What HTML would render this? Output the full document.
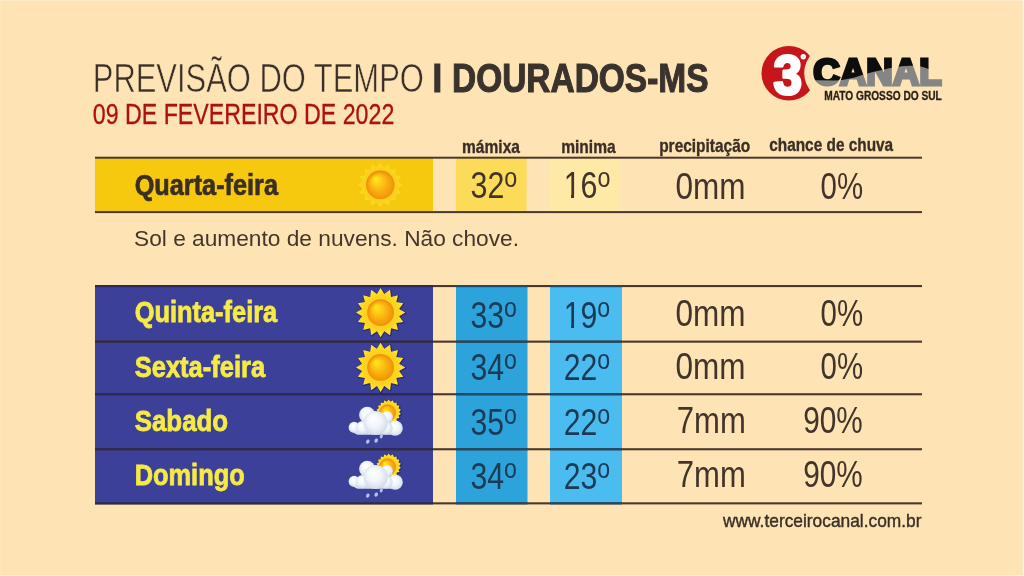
<!DOCTYPE html>
<html lang="pt-BR"><head><meta charset="utf-8"><title>Previsão do Tempo - Dourados-MS</title>
<style>html,body{margin:0;padding:0;background:#FEE4B5;}body{width:1024px;height:576px;overflow:hidden}svg{display:block}text{font-family:"Liberation Sans",Arial,sans-serif}</style>
</head><body>
<svg width="1024" height="576" viewBox="0 0 1024 576">
<defs>
<radialGradient id="core" cx="0.6" cy="0.63" r="0.72" fx="0.32" fy="0.28"><stop offset="0" stop-color="#FFEE18"/><stop offset="0.25" stop-color="#FDC814"/><stop offset="0.55" stop-color="#F5A00E"/><stop offset="0.8" stop-color="#EB820A"/><stop offset="1" stop-color="#F0960E"/></radialGradient>
<radialGradient id="rays" cx="0.5" cy="0.5" r="0.5"><stop offset="0" stop-color="#FBC81A"/><stop offset="0.7" stop-color="#FCD41E"/><stop offset="1" stop-color="#FFEA3A"/></radialGradient>
<radialGradient id="cl" cx="0.5" cy="0.5" r="0.6" fx="0.38" fy="0.3"><stop offset="0" stop-color="#ffffff"/><stop offset="0.5" stop-color="#f1f5fa"/><stop offset="0.82" stop-color="#d6e0ed"/><stop offset="1" stop-color="#b8c8de"/></radialGradient>
<filter id="soft" x="-20%" y="-20%" width="140%" height="140%"><feGaussianBlur stdDeviation="0.6"/></filter>
</defs>
<rect width="1024" height="576" fill="#FEE4B5"/>

<rect x="0" y="0" width="1024" height="1" fill="#FDEBC8"/><rect x="0" y="0" width="1" height="576" fill="#FEE8BA"/><rect x="1022" y="0" width="1" height="576" fill="#F9E8C8"/><rect x="1023" y="0" width="1" height="576" fill="#FFF5DC"/><rect x="0" y="575" width="1024" height="1" fill="#FFF1D2"/>
<text x="92.8" y="91.6" font-size="40.2" font-weight="normal" fill="#3a2f28" text-anchor="start" textLength="331" lengthAdjust="spacingAndGlyphs" stroke="#FEE4B5" stroke-width="0.6">PREVISÃO DO TEMPO</text>
<text x="432.2" y="92.3" font-size="40.5" font-weight="bold" fill="#3a322d" text-anchor="start" textLength="10.2" lengthAdjust="spacingAndGlyphs" stroke="#3a322d" stroke-width="0.8">I</text>
<text x="452" y="92.3" font-size="40.5" font-weight="bold" fill="#3a322d" text-anchor="start" textLength="256.5" lengthAdjust="spacingAndGlyphs" stroke="#3a322d" stroke-width="1.1">DOURADOS-MS</text>
<text x="92.8" y="123.6" font-size="29.7" font-weight="normal" fill="#AC1010" text-anchor="start" textLength="301.5" lengthAdjust="spacingAndGlyphs" stroke="#AC1010" stroke-width="0.3">09 DE FEVEREIRO DE 2022</text>
<text x="462" y="152.6" font-size="18.6" font-weight="bold" fill="#3b2e25" text-anchor="start" textLength="58" lengthAdjust="spacingAndGlyphs" stroke="#3b2e25" stroke-width="0.35">mámixa</text>
<text x="561.2" y="152.6" font-size="18.6" font-weight="bold" fill="#3b2e25" text-anchor="start" textLength="54.5" lengthAdjust="spacingAndGlyphs" stroke="#3b2e25" stroke-width="0.35">minima</text>
<text x="659.2" y="152.2" font-size="18.6" font-weight="bold" fill="#3b2e25" text-anchor="start" textLength="91" lengthAdjust="spacingAndGlyphs" stroke="#3b2e25" stroke-width="0.35">precipitação</text>
<text x="769.2" y="150.9" font-size="18.6" font-weight="bold" fill="#3b2e25" text-anchor="start" textLength="124" lengthAdjust="spacingAndGlyphs" stroke="#3b2e25" stroke-width="0.35">chance de chuva</text>
<rect x="95" y="157" width="338" height="55" fill="#F6C90F"/>
<rect x="456" y="157" width="70.5" height="55" fill="#FBDB58"/>
<rect x="550" y="157" width="69.5" height="55" fill="#FEEAA6"/>
<rect x="95" y="156.7" width="827" height="2" fill="#4a382d"/>
<rect x="95" y="211.1" width="827" height="2" fill="#4a382d"/>
<text x="134.7" y="194.5" font-size="30.4" font-weight="bold" fill="#3b2e25" text-anchor="start" textLength="143.3" lengthAdjust="spacingAndGlyphs" stroke="#3b2e25" stroke-width="0.7">Quarta-feira</text>
<polygon points="380.30,162.80 383.81,167.15 388.72,164.47 390.30,169.83 395.86,169.24 395.27,174.80 400.63,176.38 397.95,181.29 402.30,184.80 397.95,188.31 400.63,193.22 395.27,194.80 395.86,200.36 390.30,199.77 388.72,205.13 383.81,202.45 380.30,206.80 376.79,202.45 371.88,205.13 370.30,199.77 364.74,200.36 365.33,194.80 359.97,193.22 362.65,188.31 358.30,184.80 362.65,181.29 359.97,176.38 365.33,174.80 364.74,169.24 370.30,169.83 371.88,164.47 376.79,167.15" fill="url(#rays)" opacity="0.55"/>
<circle cx="380.3" cy="184.8" r="14.3" fill="url(#core)" filter="url(#soft)"/>
<text x="470.5" y="197.6" font-size="36.5" font-weight="normal" fill="#42342a" text-anchor="start" textLength="46.8" lengthAdjust="spacingAndGlyphs" >32<tspan font-size="28" dy="-11">o</tspan></text>
<text x="563.7" y="197.6" font-size="36.5" font-weight="normal" fill="#42342a" text-anchor="start" textLength="46.8" lengthAdjust="spacingAndGlyphs" >16<tspan font-size="28" dy="-11">o</tspan></text>
<rect x="565.2" y="194.3" width="5.8" height="4" fill="#FEEAA6"/><rect x="574.0" y="194.3" width="6.6" height="4" fill="#FEEAA6"/>
<text x="675.5" y="198.7" font-size="36.5" font-weight="normal" fill="#42342a" text-anchor="start" textLength="70" lengthAdjust="spacingAndGlyphs" >0mm</text>
<text x="820.6" y="198.7" font-size="36.5" font-weight="normal" fill="#42342a" text-anchor="start" textLength="42.5" lengthAdjust="spacingAndGlyphs" >0%</text>
<text x="134" y="246.4" font-size="22.8" font-weight="normal" fill="#43362c" text-anchor="start" textLength="385" lengthAdjust="spacingAndGlyphs" >Sol e aumento de nuvens. Não chove.</text>
<rect x="95" y="286" width="338" height="217" fill="#3C4099"/>
<rect x="456" y="286" width="71.5" height="217" fill="#2CA4DB"/>
<rect x="550" y="286" width="72" height="217" fill="#4BBCEF"/>
<rect x="95" y="285" width="827" height="2.1" fill="#4a382d"/>
<rect x="95" y="340.6" width="827" height="2.1" fill="#4a382d"/>
<rect x="95" y="393.2" width="827" height="2.1" fill="#4a382d"/>
<rect x="95" y="448.2" width="827" height="2.1" fill="#4a382d"/>
<rect x="95" y="502.3" width="827" height="2.1" fill="#4a382d"/>
<rect x="95" y="285" width="338" height="2.1" fill="#2c2a55"/>
<rect x="456" y="285" width="71.5" height="2.1" fill="#1f4a66"/>
<rect x="550" y="285" width="72" height="2.1" fill="#1f4a66"/>
<rect x="95" y="340.6" width="338" height="2.1" fill="#2c2a55"/>
<rect x="456" y="340.6" width="71.5" height="2.1" fill="#1f4a66"/>
<rect x="550" y="340.6" width="72" height="2.1" fill="#1f4a66"/>
<rect x="95" y="393.2" width="338" height="2.1" fill="#2c2a55"/>
<rect x="456" y="393.2" width="71.5" height="2.1" fill="#1f4a66"/>
<rect x="550" y="393.2" width="72" height="2.1" fill="#1f4a66"/>
<rect x="95" y="448.2" width="338" height="2.1" fill="#2c2a55"/>
<rect x="456" y="448.2" width="71.5" height="2.1" fill="#1f4a66"/>
<rect x="550" y="448.2" width="72" height="2.1" fill="#1f4a66"/>
<rect x="95" y="502.3" width="338" height="2.1" fill="#2c2a55"/>
<rect x="456" y="502.3" width="71.5" height="2.1" fill="#1f4a66"/>
<rect x="550" y="502.3" width="72" height="2.1" fill="#1f4a66"/>
<text x="134.7" y="322.3" font-size="30" font-weight="bold" fill="#F6EA45" text-anchor="start" textLength="142.5" lengthAdjust="spacingAndGlyphs" stroke="#F6EA45" stroke-width="0.8">Quinta-feira</text>
<text x="470.5" y="327.6" font-size="36.5" font-weight="normal" fill="#1b3a56" text-anchor="start" textLength="46.5" lengthAdjust="spacingAndGlyphs" >33<tspan font-size="28" dy="-11">o</tspan></text>
<text x="563.7" y="327.6" font-size="36.5" font-weight="normal" fill="#1b3a56" text-anchor="start" textLength="46.5" lengthAdjust="spacingAndGlyphs" >19<tspan font-size="28" dy="-11">o</tspan></text>
<rect x="565.2" y="324.3" width="5.8" height="4" fill="#4BBCEF"/><rect x="574.0" y="324.3" width="6.6" height="4" fill="#4BBCEF"/>
<text x="675.5" y="326.3" font-size="36.5" font-weight="normal" fill="#42342a" text-anchor="start" textLength="70" lengthAdjust="spacingAndGlyphs" >0mm</text>
<text x="820.6" y="326.3" font-size="36.5" font-weight="normal" fill="#42342a" text-anchor="start" textLength="42.5" lengthAdjust="spacingAndGlyphs" >0%</text>
<polygon points="380.60,288.00 384.29,294.06 390.01,289.87 391.10,296.89 397.99,295.21 396.31,302.10 403.33,303.19 399.14,308.91 405.20,312.60 399.14,316.29 403.33,322.01 396.31,323.10 397.99,329.99 391.10,328.31 390.01,335.33 384.29,331.14 380.60,337.20 376.91,331.14 371.19,335.33 370.10,328.31 363.21,329.99 364.89,323.10 357.87,322.01 362.06,316.29 356.00,312.60 362.06,308.91 357.87,303.19 364.89,302.10 363.21,295.21 370.10,296.89 371.19,289.87 376.91,294.06" fill="#211d55" stroke="#211d55" stroke-width="1.6" stroke-linejoin="round" opacity="0.6" transform="translate(0.4,0.5)"/>
<polygon points="380.60,288.00 384.29,294.06 390.01,289.87 391.10,296.89 397.99,295.21 396.31,302.10 403.33,303.19 399.14,308.91 405.20,312.60 399.14,316.29 403.33,322.01 396.31,323.10 397.99,329.99 391.10,328.31 390.01,335.33 384.29,331.14 380.60,337.20 376.91,331.14 371.19,335.33 370.10,328.31 363.21,329.99 364.89,323.10 357.87,322.01 362.06,316.29 356.00,312.60 362.06,308.91 357.87,303.19 364.89,302.10 363.21,295.21 370.10,296.89 371.19,289.87 376.91,294.06" fill="url(#rays)" opacity="1"/>
<circle cx="380.6" cy="312.6" r="13.4" fill="url(#core)" filter="url(#soft)"/>
<text x="134.7" y="376.9" font-size="30" font-weight="bold" fill="#F6EA45" text-anchor="start" textLength="130.5" lengthAdjust="spacingAndGlyphs" stroke="#F6EA45" stroke-width="0.8">Sexta-feira</text>
<text x="470.5" y="380.3" font-size="36.5" font-weight="normal" fill="#1b3a56" text-anchor="start" textLength="46.5" lengthAdjust="spacingAndGlyphs" >34<tspan font-size="28" dy="-11">o</tspan></text>
<text x="563.7" y="380.3" font-size="36.5" font-weight="normal" fill="#1b3a56" text-anchor="start" textLength="46.5" lengthAdjust="spacingAndGlyphs" >22<tspan font-size="28" dy="-11">o</tspan></text>
<text x="675.5" y="378.6" font-size="36.5" font-weight="normal" fill="#42342a" text-anchor="start" textLength="70" lengthAdjust="spacingAndGlyphs" >0mm</text>
<text x="820.6" y="378.6" font-size="36.5" font-weight="normal" fill="#42342a" text-anchor="start" textLength="42.5" lengthAdjust="spacingAndGlyphs" >0%</text>
<polygon points="380.60,342.80 384.29,348.86 390.01,344.67 391.10,351.69 397.99,350.01 396.31,356.90 403.33,357.99 399.14,363.71 405.20,367.40 399.14,371.09 403.33,376.81 396.31,377.90 397.99,384.79 391.10,383.11 390.01,390.13 384.29,385.94 380.60,392.00 376.91,385.94 371.19,390.13 370.10,383.11 363.21,384.79 364.89,377.90 357.87,376.81 362.06,371.09 356.00,367.40 362.06,363.71 357.87,357.99 364.89,356.90 363.21,350.01 370.10,351.69 371.19,344.67 376.91,348.86" fill="#211d55" stroke="#211d55" stroke-width="1.6" stroke-linejoin="round" opacity="0.6" transform="translate(0.4,0.5)"/>
<polygon points="380.60,342.80 384.29,348.86 390.01,344.67 391.10,351.69 397.99,350.01 396.31,356.90 403.33,357.99 399.14,363.71 405.20,367.40 399.14,371.09 403.33,376.81 396.31,377.90 397.99,384.79 391.10,383.11 390.01,390.13 384.29,385.94 380.60,392.00 376.91,385.94 371.19,390.13 370.10,383.11 363.21,384.79 364.89,377.90 357.87,376.81 362.06,371.09 356.00,367.40 362.06,363.71 357.87,357.99 364.89,356.90 363.21,350.01 370.10,351.69 371.19,344.67 376.91,348.86" fill="url(#rays)" opacity="1"/>
<circle cx="380.6" cy="367.4" r="13.4" fill="url(#core)" filter="url(#soft)"/>
<text x="134.7" y="431.4" font-size="30" font-weight="bold" fill="#F6EA45" text-anchor="start" textLength="93.5" lengthAdjust="spacingAndGlyphs" stroke="#F6EA45" stroke-width="0.8">Sabado</text>
<text x="470.5" y="434.6" font-size="36.5" font-weight="normal" fill="#1b3a56" text-anchor="start" textLength="46.5" lengthAdjust="spacingAndGlyphs" >35<tspan font-size="28" dy="-11">o</tspan></text>
<text x="563.7" y="434.6" font-size="36.5" font-weight="normal" fill="#1b3a56" text-anchor="start" textLength="46.5" lengthAdjust="spacingAndGlyphs" >22<tspan font-size="28" dy="-11">o</tspan></text>
<text x="676.8" y="432.6" font-size="36.5" font-weight="normal" fill="#42342a" text-anchor="start" textLength="69" lengthAdjust="spacingAndGlyphs" >7mm</text>
<text x="803.3" y="432.6" font-size="36.5" font-weight="normal" fill="#42342a" text-anchor="start" textLength="59.5" lengthAdjust="spacingAndGlyphs" >90%</text>
<g transform="translate(0,0)">
<polygon points="388.70,399.50 390.51,401.66 392.94,400.25 393.90,402.89 396.67,402.40 396.67,405.22 399.44,405.70 398.47,408.34 400.91,409.75 399.10,411.90 400.91,414.05 398.47,415.46 399.44,418.10 396.67,418.58 396.67,421.40 393.90,420.91 392.94,423.55 390.51,422.14 388.70,424.30 386.89,422.14 384.46,423.55 383.50,420.91 380.73,421.40 380.73,418.58 377.96,418.10 378.93,415.46 376.49,414.05 378.30,411.90 376.49,409.75 378.93,408.34 377.96,405.70 380.73,405.22 380.73,402.40 383.50,402.89 384.46,400.25 386.89,401.66" fill="#211d55" stroke="#211d55" stroke-width="1.6" stroke-linejoin="round" opacity="0.6" transform="translate(0.4,0.5)"/>
<polygon points="388.70,399.50 390.51,401.66 392.94,400.25 393.90,402.89 396.67,402.40 396.67,405.22 399.44,405.70 398.47,408.34 400.91,409.75 399.10,411.90 400.91,414.05 398.47,415.46 399.44,418.10 396.67,418.58 396.67,421.40 393.90,420.91 392.94,423.55 390.51,422.14 388.70,424.30 386.89,422.14 384.46,423.55 383.50,420.91 380.73,421.40 380.73,418.58 377.96,418.10 378.93,415.46 376.49,414.05 378.30,411.90 376.49,409.75 378.93,408.34 377.96,405.70 380.73,405.22 380.73,402.40 383.50,402.89 384.46,400.25 386.89,401.66" fill="url(#rays)" opacity="1"/>
<circle cx="388.7" cy="411.9" r="0" fill="url(#core)" filter="url(#soft)"/>
<circle cx="387.5" cy="413" r="8.5" fill="url(#core)"/>
<rect x="353" y="424.5" width="44" height="10.2" rx="5.1" fill="#d3deee"/>
<g fill="url(#cl)">
<circle cx="367.2" cy="414.9" r="8.1"/>
<circle cx="387" cy="416.8" r="5.9"/>
<circle cx="354.2" cy="427.4" r="5.6"/>
<circle cx="395.2" cy="428.2" r="7.6"/>
<circle cx="362.5" cy="427.6" r="6.6"/>
<circle cx="386" cy="428" r="6.6"/>
<circle cx="375.7" cy="423" r="12"/>
</g>
<g fill="#a9c6f5"><ellipse cx="367.8" cy="441.6" rx="1.7" ry="2.2" transform="rotate(25 367.8 441.6)"/><ellipse cx="376.2" cy="440.6" rx="1.7" ry="2.2" transform="rotate(25 376.2 440.6)"/><ellipse cx="381.3" cy="436.4" rx="1.5" ry="2" transform="rotate(25 381.3 436.4)"/></g>
</g>
<text x="134.7" y="484.9" font-size="30" font-weight="bold" fill="#F6EA45" text-anchor="start" textLength="110" lengthAdjust="spacingAndGlyphs" stroke="#F6EA45" stroke-width="0.8">Domingo</text>
<text x="470.5" y="488.8" font-size="36.5" font-weight="normal" fill="#1b3a56" text-anchor="start" textLength="46.5" lengthAdjust="spacingAndGlyphs" >34<tspan font-size="28" dy="-11">o</tspan></text>
<text x="563.7" y="488.8" font-size="36.5" font-weight="normal" fill="#1b3a56" text-anchor="start" textLength="46.5" lengthAdjust="spacingAndGlyphs" >23<tspan font-size="28" dy="-11">o</tspan></text>
<text x="676.8" y="486.9" font-size="36.5" font-weight="normal" fill="#42342a" text-anchor="start" textLength="69" lengthAdjust="spacingAndGlyphs" >7mm</text>
<text x="803.3" y="486.9" font-size="36.5" font-weight="normal" fill="#42342a" text-anchor="start" textLength="59.5" lengthAdjust="spacingAndGlyphs" >90%</text>
<g transform="translate(0,54)">
<polygon points="388.70,399.50 390.51,401.66 392.94,400.25 393.90,402.89 396.67,402.40 396.67,405.22 399.44,405.70 398.47,408.34 400.91,409.75 399.10,411.90 400.91,414.05 398.47,415.46 399.44,418.10 396.67,418.58 396.67,421.40 393.90,420.91 392.94,423.55 390.51,422.14 388.70,424.30 386.89,422.14 384.46,423.55 383.50,420.91 380.73,421.40 380.73,418.58 377.96,418.10 378.93,415.46 376.49,414.05 378.30,411.90 376.49,409.75 378.93,408.34 377.96,405.70 380.73,405.22 380.73,402.40 383.50,402.89 384.46,400.25 386.89,401.66" fill="#211d55" stroke="#211d55" stroke-width="1.6" stroke-linejoin="round" opacity="0.6" transform="translate(0.4,0.5)"/>
<polygon points="388.70,399.50 390.51,401.66 392.94,400.25 393.90,402.89 396.67,402.40 396.67,405.22 399.44,405.70 398.47,408.34 400.91,409.75 399.10,411.90 400.91,414.05 398.47,415.46 399.44,418.10 396.67,418.58 396.67,421.40 393.90,420.91 392.94,423.55 390.51,422.14 388.70,424.30 386.89,422.14 384.46,423.55 383.50,420.91 380.73,421.40 380.73,418.58 377.96,418.10 378.93,415.46 376.49,414.05 378.30,411.90 376.49,409.75 378.93,408.34 377.96,405.70 380.73,405.22 380.73,402.40 383.50,402.89 384.46,400.25 386.89,401.66" fill="url(#rays)" opacity="1"/>
<circle cx="388.7" cy="411.9" r="0" fill="url(#core)" filter="url(#soft)"/>
<circle cx="387.5" cy="413" r="8.5" fill="url(#core)"/>
<rect x="353" y="424.5" width="44" height="10.2" rx="5.1" fill="#d3deee"/>
<g fill="url(#cl)">
<circle cx="367.2" cy="414.9" r="8.1"/>
<circle cx="387" cy="416.8" r="5.9"/>
<circle cx="354.2" cy="427.4" r="5.6"/>
<circle cx="395.2" cy="428.2" r="7.6"/>
<circle cx="362.5" cy="427.6" r="6.6"/>
<circle cx="386" cy="428" r="6.6"/>
<circle cx="375.7" cy="423" r="12"/>
</g>
<g fill="#a9c6f5"><ellipse cx="367.8" cy="441.6" rx="1.7" ry="2.2" transform="rotate(25 367.8 441.6)"/><ellipse cx="376.2" cy="440.6" rx="1.7" ry="2.2" transform="rotate(25 376.2 440.6)"/><ellipse cx="381.3" cy="436.4" rx="1.5" ry="2" transform="rotate(25 381.3 436.4)"/></g>
</g>
<text x="723" y="527" font-size="17.8" font-weight="normal" fill="#3b2e25" text-anchor="start" textLength="198.5" lengthAdjust="spacingAndGlyphs" stroke="#3b2e25" stroke-width="0.4">www.terceirocanal.com.br</text>
<g>
<circle cx="788.85" cy="73.25" r="27.35" fill="#C6151B"/>
<circle cx="832.6" cy="73" r="28.4" fill="#FEE4B5"/>
<text x="773.5" y="93.6" font-size="56" font-weight="bold" fill="#ffffff" text-anchor="start" textLength="28.5" lengthAdjust="spacingAndGlyphs" stroke="#fff" stroke-width="3" stroke-linejoin="round">3</text>
<circle cx="803.3" cy="56.8" r="2.7" fill="#fff"/>
<circle cx="803.3" cy="56.8" r="0.8" fill="#f3c4c4"/>
<pattern id="cpat" patternUnits="userSpaceOnUse" x="800" y="40" width="160" height="60"><rect x="0" y="0" width="160" height="60" fill="#858585"/><path transform="translate(-800,-40)" fill="#0d0d0d" d="M800 40 H960 V78 H948 L934 71.5 C926 67.5 920 65.5 911 65.7 C898 66 888 68.5 873 72 C860 75 850 80.5 834 80.5 L800 80 Z"/></pattern>
<text x="813.2" y="84.6" font-size="36" font-weight="bold" fill="url(#cpat)" text-anchor="start" textLength="128.6" lengthAdjust="spacingAndGlyphs" stroke="url(#cpat)" stroke-width="3" stroke-linejoin="miter">CANAL</text>
<text x="824.2" y="100.2" font-size="12.2" font-weight="bold" fill="#2a2018" text-anchor="start" textLength="117.6" lengthAdjust="spacingAndGlyphs" stroke="#2a2018" stroke-width="0.3">MATO GROSSO DO SUL</text>
</g>
</svg>
</body></html>
